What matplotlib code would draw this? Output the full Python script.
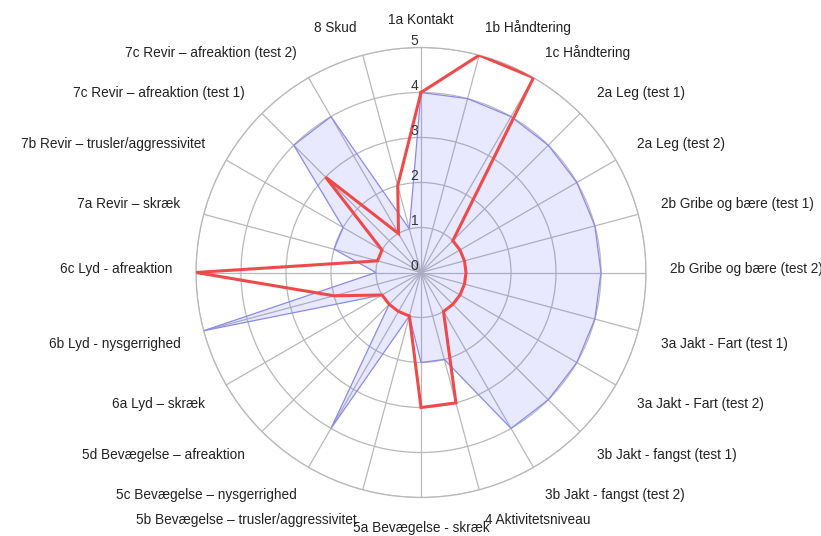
import numpy as np
import matplotlib.pyplot as plt

plt.rcParams['font.family'] = ['Liberation Sans', 'DejaVu Sans']

# kategorier, med uret fra toppen
categories = [
    '1a Kontakt', '1b Håndtering', '1c Håndtering',
    '2a Leg (test 1)', '2a Leg (test 2)',
    '2b Gribe og bære (test 1)', '2b Gribe og bære (test 2)',
    '3a Jakt - Fart (test 1)', '3a Jakt - Fart (test 2)',
    '3b Jakt - fangst (test 1)', '3b Jakt - fangst (test 2)',
    '4 Aktivitetsniveau', '5a Bevægelse - skræk',
    '5b Bevægelse – trusler/aggressivitet', '5c Bevægelse – nysgerrighed',
    '5d Bevægelse – afreaktion', '6a Lyd – skræk', '6b Lyd - nysgerrighed',
    '6c Lyd - afreaktion', '7a Revir – skræk', '7b Revir – trusler/aggressivitet',
    '7c Revir – afreaktion (test 1)', '7c Revir – afreaktion (test 2)', '8 Skud',
]
# udfyldt blå profil
reference_scores = [4, 4, 4, 4, 4, 4, 4, 4, 4, 4, 4, 2, 2, 1, 4, 1, 1, 5, 1, 2, 2, 4, 4, 1]
# rød linje
dog_scores = [4, 5, 5, 1, 1, 1, 1, 1, 1, 1, 1, 3, 3, 1, 1, 1, 1, 2, 5, 1, 1, 3, 1, 2]
rings = [0, 1, 2, 3, 4, 5]

n = len(categories)
theta = np.deg2rad(np.arange(n) * 360.0 / n)
theta_c = np.append(theta, theta[0])

fig = plt.figure(figsize=(8.21, 5.36), dpi=100)
W, H = 821, 536
cx, cy, R = 421, 272.5, 225
ax = fig.add_axes([(cx - R) / W, (H - cy - R) / H, 2 * R / W, 2 * R / H], projection='polar')
ax.set_theta_zero_location('N')
ax.set_theta_direction(-1)
ax.set_ylim(0, 5)
ax.set_facecolor('white')

grid_col = '#b8b8b8'
ax.set_thetagrids(np.rad2deg(theta), labels=[])
ax.set_rgrids(rings[1:], labels=[])
ax.grid(True, color=grid_col, linewidth=0.9)
ax.spines['polar'].set_color(grid_col)
ax.spines['polar'].set_linewidth(0.9)
ax.tick_params(length=0)

ax.fill(theta_c, np.append(reference_scores, reference_scores[0]),
        facecolor=(0.4, 0.4, 1.0, 0.15), edgecolor='#8a8aee', linewidth=0.9, zorder=3)
ax.plot(theta_c, np.append(dog_scores, dog_scores[0]), color='#ef4a4a',
        linewidth=2.2, solid_joinstyle='miter', zorder=4)

# akse-tal langs den lodrette eger
for r in rings:
    ax.annotate(str(r), xy=(0, r), xytext=(-2, 2), textcoords='offset points',
                ha='right', va='baseline', fontsize=10, color='#333333', zorder=5)

# kategorietiketter
label_r = 5.53
for t, lab in zip(theta, categories):
    s, c = np.sin(t), np.cos(t)
    ha = 'left' if s > 0.01 else ('right' if s < -0.01 else 'center')
    va = 'top' if c < -0.01 else 'baseline'
    ax.text(t, label_r, lab, ha=ha, va=va, fontsize=9.8, color='#222222')

fig.savefig('out.png', dpi=100)
